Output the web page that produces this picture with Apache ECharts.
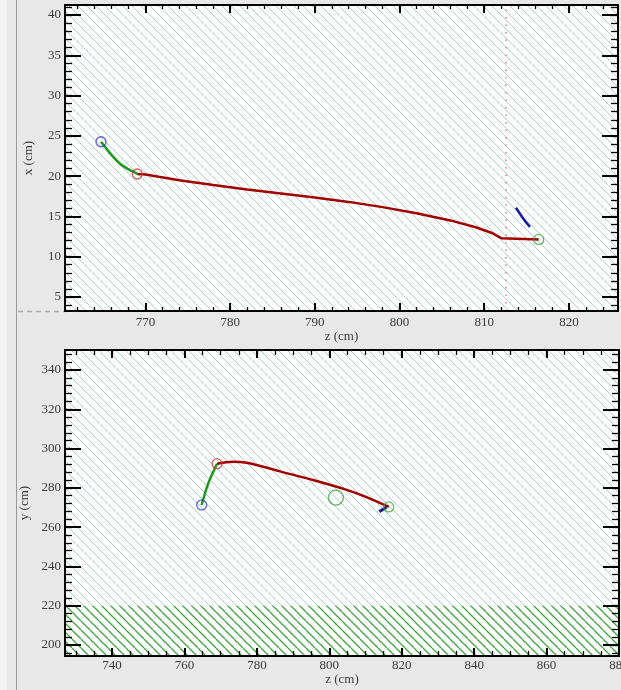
<!DOCTYPE html>
<html><head><meta charset="utf-8">
<script src="https://cdn.jsdelivr.net/npm/echarts@6/dist/echarts.min.js"></script>
<style>html,body{margin:0;padding:0;background:#e8e8e8;} #c{width:621px;height:690px;}</style>
</head><body><div id="c"></div>
<script>
// ---- data ----
// top panel: x (cm) vs z (cm)
const topGreenZ = [764.75, 765.22, 766.2, 767.2, 768.17, 768.77, 769.04];
const topGreenX = [24.27, 23.65, 22.4, 21.37, 20.75, 20.42, 20.26];
const topRedZ = [769.04, 770, 774, 778, 782, 786, 790, 794, 798, 802, 806, 809, 811, 812.06, 816.43];
const topRedX = [20.26, 20.2, 19.5, 18.9, 18.35, 17.85, 17.35, 16.8, 16.15, 15.4, 14.5, 13.65, 12.9, 12.27, 12.14];
const topBlueZ = [813.75, 814.6, 815.4];
const topBlueX = [16.07, 14.75, 13.7];
const topVertexZ = [764.75, 769.04, 816.43];
const topVertexX = [24.27, 20.26, 12.14];
const topDottedZ = 812.54;
// bottom panel: y (cm) vs z (cm)
const botGreenZ = [764.74, 766.56, 769.0];
const botGreenY = [271.3, 282.3, 292.3];
const botRedZ = [769.0, 771.5, 773.4, 777.2, 781.5, 786.4, 795.5, 804.8, 810.3, 816.4];
const botRedY = [292.3, 293.1, 293.3, 292.8, 290.9, 288.4, 284.0, 279.0, 275.3, 270.3];
const botBlueZ = [813.8, 815.8];
const botBlueY = [267.9, 270.1];
const botVertexZ = [764.74, 769.0, 816.4];
const botVertexY = [271.3, 292.3, 270.3];
const botBigCircleZ = [801.8];
const botBigCircleY = [275.0];
const botDetectorEdgeY = 220;
// axis ranges and tick labels
const topZRange = [760.5, 825.8];
const topXRange = [3.25, 41.25];
const botZRange = [727, 880];
const botYRange = [194.4, 350.2];
const topZTicks = [770, 780, 790, 800, 810, 820];
const topXTicks = [5, 10, 15, 20, 25, 30, 35, 40];
const botZTicks = [740, 760, 780, 800, 820, 840, 860, 880];
const botYTicks = [200, 220, 240, 260, 280, 300, 320, 340];

function range(a, b, s) { const r = []; for (let v = a; v <= b + 1e-9; v += s) r.push(+v.toFixed(3)); return r; }
const topZMinor = range(762, 824, 2);
const topXMinor = range(4, 41, 1);
const botZMinor = range(730, 875, 5);
const botYMinor = range(196, 348, 4);

function zip(a, b) { return a.map((v, i) => [v, b[i]]); }

function hatch(color, width, bg) {
  const s = 9, c = document.createElement('canvas');
  c.width = s; c.height = s;
  const g = c.getContext('2d');
  if (bg) { g.fillStyle = bg; g.fillRect(0, 0, s, s); }
  g.strokeStyle = color; g.lineWidth = width;
  for (const x0 of [-s, 0, s]) { g.beginPath(); g.moveTo(x0, 0); g.lineTo(x0 + s, s); g.stroke(); }
  return { image: c, repeat: 'repeat' };
}

const FONT = 'Liberation Serif';
const txt = { color: '#3a3a3a', fontFamily: FONT, fontSize: 13 };

function axes(grid, pos, opp, rng, majors, minors, majLen, minLen, name, nameGap, nameRotate, margin) {
  const base = { gridIndex: grid, type: 'value', min: rng[0], max: rng[1], splitLine: { show: false }, z: 5 };
  const line = { show: true, onZero: false, lineStyle: { color: '#000', width: 2 } };
  const majTick = { show: true, inside: true, length: majLen, customValues: majors, lineStyle: { color: '#000', width: 2 } };
  const minTick = { show: true, inside: true, length: minLen, customValues: minors, lineStyle: { color: '#000', width: 1.3 } };
  return [
    Object.assign({}, base, { position: pos, axisLine: line, axisTick: majTick,
      axisLabel: Object.assign({ show: true, customValues: majors, margin: margin, hideOverlap: false }, txt),
      name: name, nameLocation: 'middle', nameGap: nameGap, nameRotate: nameRotate, nameTextStyle: txt }),
    Object.assign({}, base, { position: opp, axisLine: line, axisTick: majTick, axisLabel: { show: false } }),
    Object.assign({}, base, { position: pos, axisLine: { show: false, onZero: false }, axisTick: minTick, axisLabel: { show: false } }),
    Object.assign({}, base, { position: opp, axisLine: { show: false, onZero: false }, axisTick: minTick, axisLabel: { show: false } })
  ];
}

const lightHatch = hatch('#acd3c9', 1, '#ffffff');
const greenHatch = hatch('#3fa63f', 1.3, '#ffffff');

const RED = '#a00000', GREEN = '#1a9a1a', BLUE = '#1a1aa0';
const vColors = ['#3838c8', '#c83838', '#38a838'];
function vertexData(zs, vs) {
  return zs.map((z, i) => ({ value: [z, vs[i]], itemStyle: { color: 'rgba(0,0,0,0)', borderColor: vColors[i], borderWidth: 1.3 } }));
}

const chart = echarts.init(document.getElementById('c'), null, { renderer: 'canvas' });
chart.setOption({
  animation: false,
  backgroundColor: '#e8e8e8',
  grid: [
    { left: 65, top: 5, width: 553, height: 306, show: true, backgroundColor: lightHatch, borderWidth: 0, containLabel: false, outerBoundsMode: 'none' },
    { left: 65, top: 350, width: 554, height: 306, show: true, backgroundColor: lightHatch, borderWidth: 0, containLabel: false, outerBoundsMode: 'none' }
  ],
  xAxis: [].concat(
    axes(0, 'bottom', 'top', topZRange, topZTicks, topZMinor, 8, 4, 'z (cm)', 17, 0, 5),
    axes(1, 'bottom', 'top', botZRange, botZTicks, botZMinor, 8, 5, 'z (cm)', 15, 0, 3)
  ),
  yAxis: [].concat(
    axes(0, 'left', 'right', topXRange, topXTicks, topXMinor, 16, 7, 'x (cm)', 30, 90, 4),
    axes(1, 'left', 'right', botYRange, botYTicks, botYMinor, 16, 7, 'y (cm)', 30, 90, 4)
  ),
  graphic: [
    { type: 'rect', shape: { x: 0, y: 0, width: 7, height: 690 }, style: { fill: '#f2f2f2' }, silent: true },
    { type: 'line', shape: { x1: 16.5, y1: 0, x2: 16.5, y2: 690 }, style: { stroke: '#9a9a9a', lineWidth: 1 }, silent: true },
    { type: 'line', shape: { x1: 18, y1: 311.5, x2: 65, y2: 311.5 }, style: { stroke: '#aaaaaa', lineWidth: 1.5, lineDash: [5, 4] }, silent: true }
  ],
  series: [
    { type: 'line', xAxisIndex: 4, yAxisIndex: 4, data: [], symbol: 'none',
      markArea: { silent: true, itemStyle: { color: greenHatch }, data: [[{ yAxis: botYRange[0] }, { yAxis: botDetectorEdgeY }]] } },
    { type: 'line', xAxisIndex: 0, yAxisIndex: 0, data: zip(topGreenZ, topGreenX), symbol: 'none', smooth: 0.3,
      lineStyle: { color: GREEN, width: 2.5 }, z: 3 },
    { type: 'line', xAxisIndex: 0, yAxisIndex: 0, data: zip(topRedZ, topRedX), symbol: 'none',
      lineStyle: { color: RED, width: 2.5 }, z: 3,
      markLine: { silent: true, symbol: ['none', 'none'], label: { show: false },
        lineStyle: { color: '#e07a7a', type: [1.5, 6], width: 1.5 }, data: [{ xAxis: topDottedZ }] } },
    { type: 'line', xAxisIndex: 0, yAxisIndex: 0, data: zip(topBlueZ, topBlueX), symbol: 'none', smooth: 0.3,
      lineStyle: { color: BLUE, width: 2.5 }, z: 3 },
    { type: 'scatter', xAxisIndex: 0, yAxisIndex: 0, data: vertexData(topVertexZ, topVertexX), symbol: 'circle', symbolSize: 10, z: 4 },
    { type: 'line', xAxisIndex: 4, yAxisIndex: 4, data: zip(botGreenZ, botGreenY), symbol: 'none', smooth: 0.3,
      lineStyle: { color: GREEN, width: 2.5 }, z: 3 },
    { type: 'line', xAxisIndex: 4, yAxisIndex: 4, data: zip(botRedZ, botRedY), symbol: 'none', smooth: 0.3,
      lineStyle: { color: RED, width: 2.5 }, z: 3 },
    { type: 'line', xAxisIndex: 4, yAxisIndex: 4, data: zip(botBlueZ, botBlueY), symbol: 'none',
      lineStyle: { color: BLUE, width: 3 }, z: 3 },
    { type: 'scatter', xAxisIndex: 4, yAxisIndex: 4, data: vertexData(botVertexZ, botVertexY), symbol: 'circle', symbolSize: 10, z: 4 },
    { type: 'scatter', xAxisIndex: 4, yAxisIndex: 4, data: zip(botBigCircleZ, botBigCircleY), symbol: 'circle', symbolSize: 15, z: 4,
      itemStyle: { color: 'rgba(0,0,0,0)', borderColor: '#3aa83a', borderWidth: 1.3 } }
  ]
});
</script>
</body></html>
